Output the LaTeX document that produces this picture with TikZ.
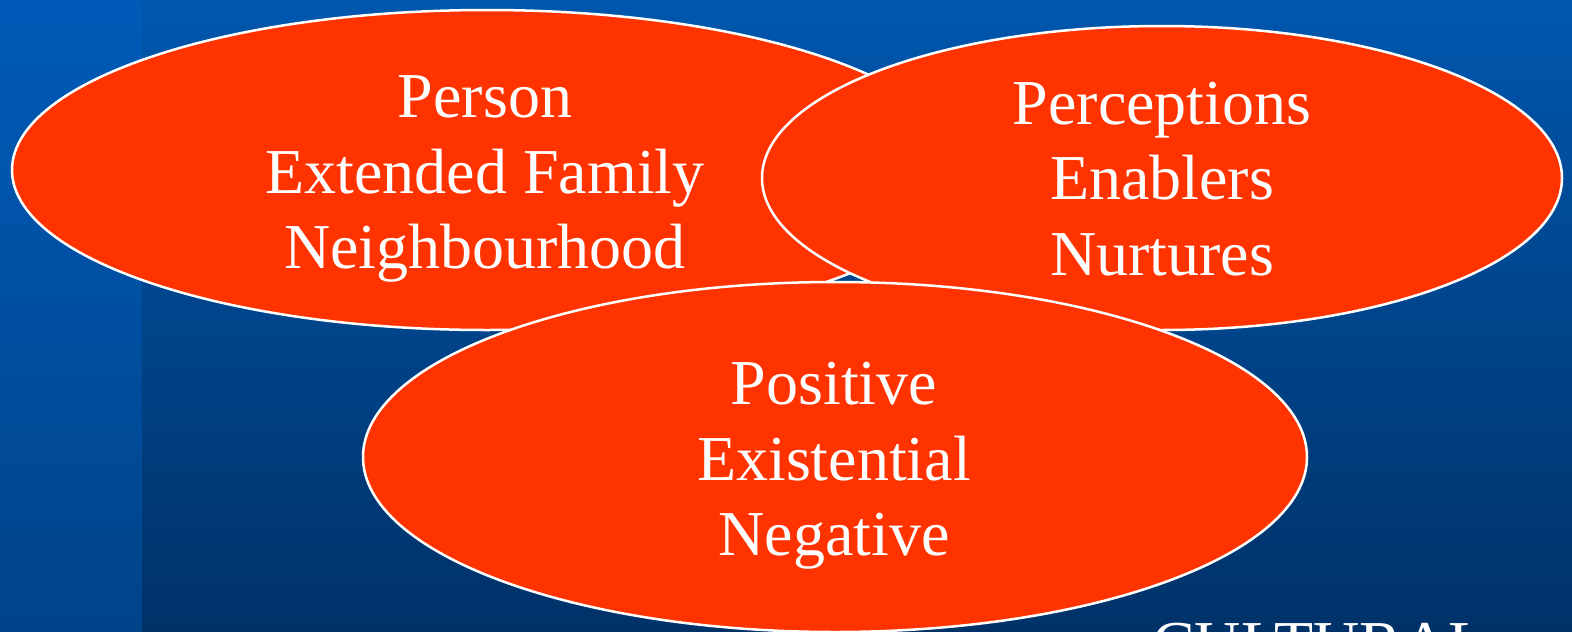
\documentclass[tikz,border=0pt]{standalone}
\usepackage{fontspec}
\setmainfont{Liberation Serif}
\usetikzlibrary{positioning}
\definecolor{bluetop}{HTML}{0057AE}
\definecolor{bluebot}{HTML}{003268}
\definecolor{striptop}{HTML}{005BB8}
\definecolor{stripbot}{HTML}{004389}
\definecolor{venn}{HTML}{FF3300}
\tikzset{
  bubble/.style={fill=venn,draw=white,line width=2.5pt},
  bubbletext/.style={text=white,align=center,inner sep=0pt,
    font=\fontsize{64}{75.5}\selectfont}
}
\begin{document}
\begin{tikzpicture}[x=1pt,y=-1pt]
            \useasboundingbox (0,0) rectangle (1572,632);
            \clip (0,0) rectangle (1572,632);
            % Background
            \shade[top color=striptop,bottom color=stripbot] (0,0) rectangle (142,632);
            \shade[top color=bluetop,bottom color=bluebot] (142,0) rectangle (1572,632);
            % Circles
            \draw[bubble] (487,170) ellipse [x radius=475,y radius=160];
            \draw[bubble] (1162,178) ellipse [x radius=400,y radius=152];
            \draw[bubble] (835,457) ellipse [x radius=472,y radius=175];
            % Labels
            \node[bubbletext] (person) at (485,179)
                {Person\\Extended Family\\Neighbourhood};
            \node[bubbletext] (perceptions) at (1162,179)
                {Perceptions\\Enablers\\Nurtures};
            \node[bubbletext] (positive) at (834,466)
                {Positive\\Existential\\Negative};
            \node[bubbletext,anchor=base west] (cultural) at (1152,665) {CULTURAL};
           \end{tikzpicture}
\end{document}
